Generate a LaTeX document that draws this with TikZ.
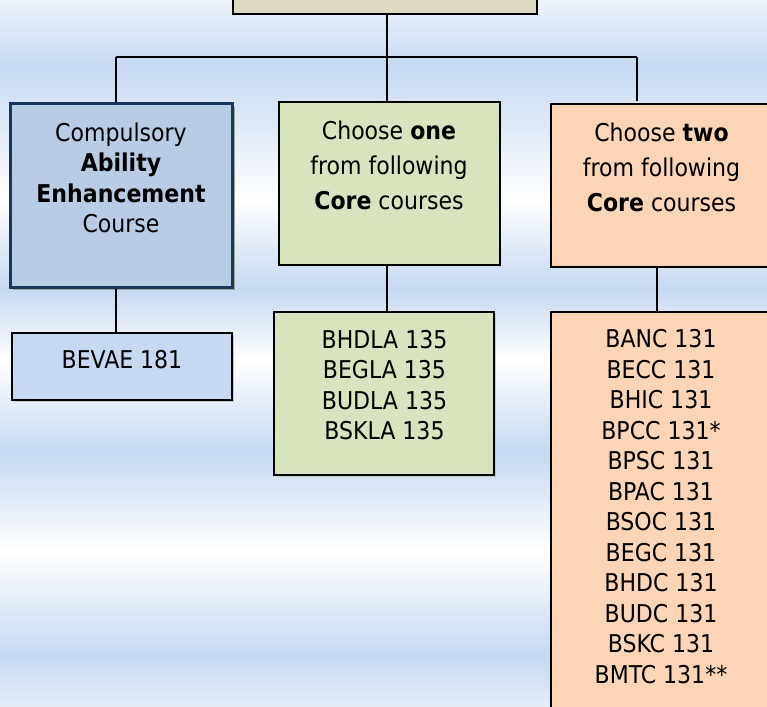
\documentclass[tikz,border=0pt]{standalone}
\usepackage{fontspec}
\setmainfont{DejaVu Sans Condensed}
\usetikzlibrary{shadows}
\definecolor{bgA}{HTML}{EEF3FB}
\definecolor{bgB}{HTML}{C6D9F1}
\definecolor{bgC}{HTML}{E4ECF7}
\definecolor{tanc}{HTML}{DDD9C3}
\definecolor{bluec}{HTML}{B8CCE4}
\definecolor{navyc}{HTML}{17375E}
\definecolor{lightbluec}{HTML}{C6D9F1}
\definecolor{greenc}{HTML}{D7E4BD}
\definecolor{orangec}{HTML}{FBD5B5}
\definecolor{shadowc}{HTML}{9DA78F}
\begin{document}
\begin{tikzpicture}[x=1pt,y=-1pt,
  box/.style={draw=black, line width=1.6pt, rectangle, inner sep=0pt},
  conn/.style={draw=black, line width=1.6pt},
  txt/.style={align=center, inner sep=0pt, font=\fontsize{24.5}{30.5}\selectfont},
  txtwide/.style={align=center, inner sep=0pt, font=\fontsize{24.5}{35.1}\selectfont},
  shad/.style={drop shadow={shadow xshift=3pt, shadow yshift=-3pt, fill=shadowc, opacity=1}}]
\useasboundingbox (0,0) rectangle (767,706);
\clip (0,0) rectangle (767,706);
% background bands
\shade[top color=bgA, bottom color=bgB] (0,0) rectangle (767,65.5);
\shade[top color=bgB, bottom color=white] (0,65) rectangle (767,200.5);
\shade[top color=white, bottom color=bgB] (0,200) rectangle (767,288.5);
\shade[top color=bgB, bottom color=white] (0,288) rectangle (767,360.5);
\shade[top color=white, bottom color=bgB] (0,360) rectangle (767,452.5);
\shade[top color=bgB, bottom color=white] (0,452) rectangle (767,550.5);
\shade[top color=white, bottom color=bgB] (0,550) rectangle (767,655.5);
\shade[top color=bgB, bottom color=bgC] (0,655) rectangle (767,706);
% boxes
\node[box, fill=tanc, minimum width=304pt, minimum height=44pt] (top) at (385,-8) {};
\node[box, draw=navyc, line width=3pt, fill=bluec, minimum width=222pt, minimum height=183pt, shad] (comp) at (121,195.5) {};
\node[box, fill=greenc, minimum width=221pt, minimum height=163pt] (one) at (389.5,183.5) {};
\node[box, fill=orangec, minimum width=220pt, minimum height=163pt] (two) at (661,185.5) {};
\node[box, fill=lightbluec, minimum width=220pt, minimum height=67pt, drop shadow={shadow xshift=1.5pt, shadow yshift=-1.5pt, fill=shadowc!60, opacity=1}] (bevae) at (122,366.5) {};
\node[box, fill=greenc, minimum width=220pt, minimum height=163pt, drop shadow={shadow xshift=1.5pt, shadow yshift=-1.5pt, fill=shadowc!60, opacity=1}] (onelist) at (384,393.5) {};
\node[box, fill=orangec, minimum width=220pt, minimum height=420pt] (twolist) at (661,522) {};
% texts
\node[txt] (comptext) at (121,178) {Compulsory\\\textbf{Ability}\\\textbf{Enhancement}\\Course};
\node[txtwide] (onetext) at (389,165.5) {Choose \textbf{one}\\from following\\\textbf{Core} courses};
\node[txtwide] (twotext) at (661.5,167.3) {Choose \textbf{two}\\from following\\\textbf{Core} courses};
\node[txt] (bevaetext) at (122,360) {BEVAE 181};
\node[txt] (onelisttext) at (384.5,385) {BHDLA 135\\BEGLA 135\\BUDLA 135\\BSKLA 135};
\node[txt] (twolisttext) at (661,506.8) {BANC 131\\BECC 131\\BHIC 131\\BPCC 131*\\BPSC 131\\BPAC 131\\BSOC 131\\BEGC 131\\BHDC 131\\BUDC 131\\BSKC 131\\BMTC 131**};
% connectors
\coordinate (j0) at (387,57);
\coordinate (j1) at (116,57);
\coordinate (j3) at (637,57);
\coordinate (k1) at (116,300);
\coordinate (k2) at (387,300);
\coordinate (k3) at (657,300);
\draw[conn] (top.south -| j0) -- (j0);
\draw[conn] (j1) -- (j3);
\draw[conn] (j1) -- (j1 |- comp.north);
\draw[conn] (j0) -- (j0 |- one.north);
\draw[conn] (j3) -- ([yshift=2pt]j3 |- two.north);
\draw[conn] (comp.south -| k1) -- (bevae.north -| k1);
\draw[conn] (one.south -| k2) -- (onelist.north -| k2);
\draw[conn] (two.south -| k3) -- (twolist.north -| k3);
\end{tikzpicture}
\end{document}
